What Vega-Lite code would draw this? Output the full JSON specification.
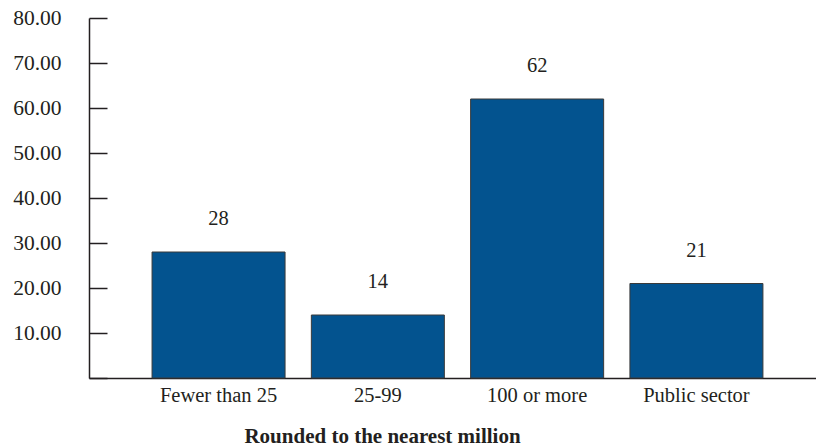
{
  "$schema": "https://vega.github.io/schema/vega-lite/v6.json",
  "autosize": "none",
  "width": 727,
  "height": 360,
  "padding": {"left": 89, "top": 18, "right": 0, "bottom": 69},
  "background": "white",
  "config": {
    "view": {"stroke": null},
    "font": "Liberation Serif"
  },
  "data": {
    "values": [
      {"category": "Fewer than 25", "value": 28},
      {"category": "25-99", "value": 14},
      {"category": "100 or more", "value": 62},
      {"category": "Public sector", "value": 21}
    ]
  },
  "encoding": {
    "x": {
      "field": "category",
      "type": "nominal",
      "sort": null,
      "scale": {"paddingInner": 0.165, "paddingOuter": 0.3645, "align": 0.543},
      "axis": {
        "title": "Rounded to the nearest million",
        "titleFont": "Liberation Serif",
        "titleFontSize": 21,
        "titleFontWeight": "bold",
        "titleColor": "#231f20",
        "titleX": 293,
        "titleY": 58,
        "titleBaseline": "middle",
        "titleAlign": "center",
        "labelAngle": 0,
        "labelFont": "Liberation Serif",
        "labelFontSize": 20.5,
        "labelColor": "#231f20",
        "labelPadding": 7,
        "ticks": false,
        "domainColor": "#231f20",
        "domainWidth": 1.5
      }
    },
    "y": {
      "field": "value",
      "type": "quantitative",
      "scale": {"domain": [0, 80]},
      "axis": {
        "title": null,
        "values": [0, 10, 20, 30, 40, 50, 60, 70, 80],
        "format": ".2f",
        "labelExpr": "datum.value == 0 ? '' : datum.label",
        "grid": false,
        "tickSize": -18,
        "tickColor": "#231f20",
        "tickWidth": 1.5,
        "domainColor": "#231f20",
        "domainWidth": 1.5,
        "labelFont": "Liberation Serif",
        "labelFontSize": 21.5,
        "labelColor": "#231f20",
        "labelPadding": 46
      }
    }
  },
  "layer": [
    {
      "mark": {"type": "bar", "fill": "#03538f", "stroke": "#3a3a3a", "strokeWidth": 1}
    },
    {
      "mark": {"type": "text", "dy": -33, "baseline": "middle", "fontSize": 20.5, "font": "Liberation Serif", "color": "#231f20"},
      "encoding": {"text": {"field": "value", "type": "quantitative"}}
    }
  ]
}
